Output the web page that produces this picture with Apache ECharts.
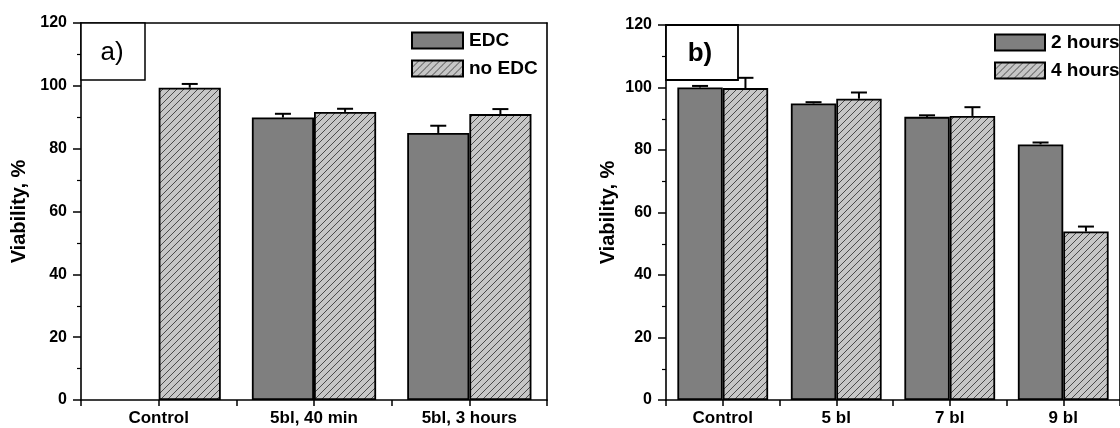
<!DOCTYPE html>
<html><head><meta charset="utf-8">
<script src="https://cdn.jsdelivr.net/npm/echarts@6/dist/echarts.min.js"></script>
<style>html,body{margin:0;padding:0;background:#fff}#c{width:1120px;height:428px}</style>
</head><body><div id="c"></div>
<script>
// ---- data ----
const catsA = ['Control', '5bl, 40 min', '5bl, 3 hours'];
const edcA = ['-', 89.9, 85.0];
const edcErrA = [0, 1.2, 2.3];
const noEdcA = [99.4, 91.7, 91.0];
const noEdcErrA = [1.2, 1.0, 1.6];

const catsB = ['Control', '5 bl', '7 bl', '9 bl'];
const h2B = [100.0, 94.9, 90.6, 81.8];
const h2ErrB = [0.5, 0.4, 0.5, 0.6];
const h4B = [99.8, 96.4, 90.9, 53.9];
const h4ErrB = [3.3, 2.0, 2.8, 1.6];

const yMin = 0, yMax = 120, yStep = 20;

// ---- styles ----
const FONT = '"Liberation Sans", Arial, sans-serif';
function hatch() {
  const s = 7, c = document.createElement('canvas');
  c.width = s; c.height = s;
  const g = c.getContext('2d');
  g.fillStyle = '#c6c6c6'; g.fillRect(0, 0, s, s);
  g.strokeStyle = '#4a4a4a'; g.lineWidth = 1;
  g.beginPath();
  for (const o of [-s, 0, s]) { g.moveTo(o - 1, s + 1); g.lineTo(o + s + 1, -1); }
  g.stroke();
  return c;
}
const hatchFill = { image: hatch(), repeat: 'repeat' };
const solidFill = '#7f7f7f';

function errS(gi, vals, errs, side) {
  const data = [];
  vals.forEach((v, i) => { if (v !== '-') data.push([i, v, v + errs[i]]); });
  return {
    type: 'custom', xAxisIndex: gi * 3, yAxisIndex: gi * 2, z: 5, silent: true,
    encode: { x: 0, y: [1, 2] }, data,
    renderItem(params, api) {
      const i = api.value(0);
      const band = api.size([1, 0])[0];
      const off = side * band * 0.2;
      const p0 = api.coord([i, api.value(1)]);
      const p1 = api.coord([i, api.value(2)]);
      const x = p0[0] + off, cap = 8;
      return { type: 'group', children: [
        { type: 'line', shape: { x1: x, y1: p0[1], x2: x, y2: p1[1] }, style: { stroke: '#000', lineWidth: 2 } },
        { type: 'line', shape: { x1: x - cap, y1: p1[1], x2: x + cap, y2: p1[1] }, style: { stroke: '#000', lineWidth: 2 } }
      ]};
    }
  };
}

const axisLine = { show: true, lineStyle: { color: '#000', width: 1.6 } };
function xAxes(gi, cats) {
  return [
    { type: 'category', gridIndex: gi, data: cats, position: 'bottom', axisLine,
      axisTick: { show: true, alignWithLabel: true, length: 6, lineStyle: { color: '#000', width: 1.5 } },
      axisLabel: { color: '#000', fontFamily: FONT, fontWeight: 'bold', fontSize: 17, margin: 10 } },
    { type: 'category', gridIndex: gi, data: cats, position: 'bottom', axisLine: { show: false },
      axisTick: { show: true, alignWithLabel: false, length: 6, lineStyle: { color: '#000', width: 1.5 } },
      axisLabel: { show: false } },
    { type: 'category', gridIndex: gi, data: cats, position: 'top', axisLine,
      axisTick: { show: false }, axisLabel: { show: false } }
  ];
}
function yAxes(gi, gap) {
  return [
    { type: 'value', gridIndex: gi, min: yMin, max: yMax, interval: yStep, position: 'left', axisLine,
      axisTick: { show: true, length: 8, lineStyle: { color: '#000', width: 1.5 } },
      minorTick: { show: true, splitNumber: 2, length: 4, lineStyle: { color: '#000', width: 1.2 } },
      splitLine: { show: false },
      axisLabel: { color: '#000', fontFamily: FONT, fontWeight: 'bold', fontSize: 16, margin: 14 },
      name: 'Viability, %', nameLocation: 'middle', nameGap: gap,
      nameTextStyle: { color: '#000', fontFamily: FONT, fontWeight: 'bold', fontSize: 20 } },
    { type: 'value', gridIndex: gi, min: yMin, max: yMax, interval: yStep, position: 'right', axisLine,
      axisTick: { show: false }, axisLabel: { show: false }, splitLine: { show: false } }
  ];
}
function bar(name, gi, vals, color) {
  return { name, type: 'bar', xAxisIndex: gi * 3, yAxisIndex: gi * 2, data: vals,
    barGap: '0%', barCategoryGap: '20%',
    itemStyle: { color, borderColor: '#000', borderWidth: 1.8 } };
}
const legendText = { color: '#000', fontFamily: FONT, fontWeight: 'bold', fontSize: 19, padding: [0, 0, 0, 1] };
const legendItem = { borderColor: '#000', borderWidth: 2 };

const option = {
  animation: false,
  backgroundColor: '#fff',
  grid: [
    { left: 81, top: 23, width: 466, height: 377 },
    { left: 666, top: 25, width: 463, height: 375 }
  ],
  xAxis: [...xAxes(0, catsA), ...xAxes(1, catsB)],
  yAxis: [...yAxes(0, 52), ...yAxes(1, 48)],
  legend: [
    { data: ['EDC', 'no EDC'], left: 411, top: 31, orient: 'vertical', icon: 'rect',
      itemWidth: 51, itemHeight: 16, itemGap: 9, padding: 0, textStyle: legendText, itemStyle: legendItem },
    { data: ['2 hours', '4 hours'], left: 994, top: 33, orient: 'vertical', icon: 'rect',
      itemWidth: 50, itemHeight: 16, itemGap: 9, padding: 0, textStyle: legendText, itemStyle: legendItem }
  ],
  series: [
    bar('EDC', 0, edcA, solidFill),
    bar('no EDC', 0, noEdcA, hatchFill),
    errS(0, edcA, edcErrA, -1),
    errS(0, noEdcA, noEdcErrA, 1),
    bar('2 hours', 1, h2B, solidFill),
    bar('4 hours', 1, h4B, hatchFill),
    errS(1, h2B, h2ErrB, -1),
    errS(1, h4B, h4ErrB, 1)
  ],
  graphic: [
    { type: 'rect', z: 100, shape: { x: 81, y: 23, width: 64, height: 57 },
      style: { fill: '#fff', stroke: '#000', lineWidth: 1.5 } },
    { type: 'text', z: 101, x: 112, y: 53,
      style: { text: 'a)', font: 'normal 26px "Liberation Sans", Arial', fill: '#000', align: 'center', verticalAlign: 'middle' } },
    { type: 'rect', z: 100, shape: { x: 666, y: 25, width: 72, height: 55 },
      style: { fill: '#fff', stroke: '#000', lineWidth: 1.8 } },
    { type: 'text', z: 101, x: 700, y: 54,
      style: { text: 'b)', font: 'bold 26px "Liberation Sans", Arial', fill: '#000', align: 'center', verticalAlign: 'middle' } }
  ]
};
const chart = echarts.init(document.getElementById('c'), null, { renderer: 'canvas' });
chart.setOption(option);
</script>
</body></html>
